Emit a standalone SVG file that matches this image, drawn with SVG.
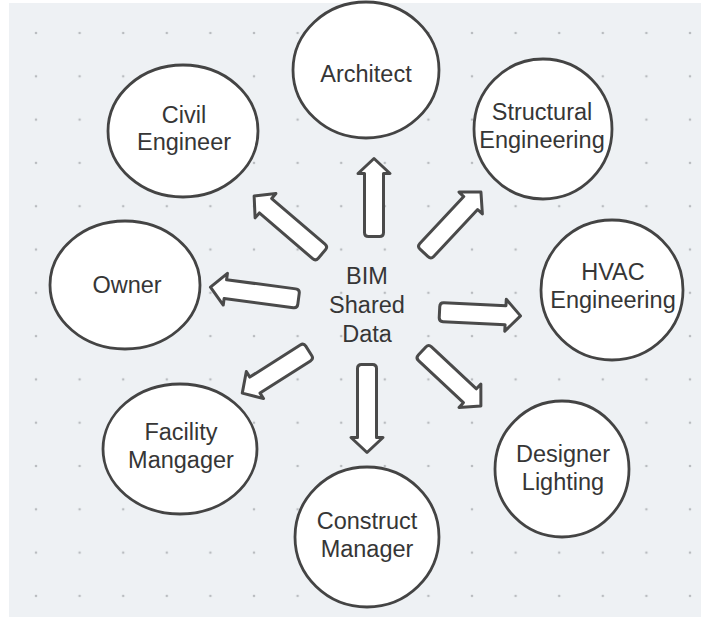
<svg xmlns="http://www.w3.org/2000/svg" width="701" height="620" viewBox="0 0 701 620">
<defs>
<pattern id="dots" patternUnits="userSpaceOnUse" x="14.2" y="11.35" width="43.6" height="43.3">
<circle cx="21.8" cy="21.65" r="1.3" fill="#b9bcc0"/>
</pattern>
<style>
.node ellipse{fill:#ffffff;stroke:#444444;stroke-width:2.8}
.node text,.center text{font-family:"Liberation Sans",Arial,sans-serif;font-size:23.5px;fill:#363636;text-anchor:middle}
.arrow{fill:#ffffff;stroke:#4a4a4a;stroke-width:3;stroke-linejoin:round}
</style>
</defs>
<rect x="0" y="0" width="701" height="620" fill="#ffffff"/>
<rect x="9" y="3" width="692" height="614" fill="#eef1f4"/>
<rect x="9" y="3" width="692" height="614" fill="url(#dots)"/>

<g id="connectors">
<path class="arrow" transform="translate(374,238) rotate(-90)" d="M5.5,-9.5 H64.5 V-16 L79.5,0 L64.5,16 V9.5 H5.5 Q1.5,9.5 1.5,5.5 V-5.5 Q1.5,-9.5 5.5,-9.5 Z"/>
<path class="arrow" transform="translate(423,254) rotate(-46.9)" d="M5.5,-9.5 H69.8 V-16 L84.8,0 L69.8,16 V9.5 H5.5 Q1.5,9.5 1.5,5.5 V-5.5 Q1.5,-9.5 5.5,-9.5 Z"/>
<path class="arrow" transform="translate(438,312) rotate(2.7)" d="M5.5,-9.5 H67.6 V-16 L82.6,0 L67.6,16 V9.5 H5.5 Q1.5,9.5 1.5,5.5 V-5.5 Q1.5,-9.5 5.5,-9.5 Z"/>
<path class="arrow" transform="translate(421,350) rotate(43.1)" d="M5.5,-9.5 H67 V-16 L82,0 L67,16 V9.5 H5.5 Q1.5,9.5 1.5,5.5 V-5.5 Q1.5,-9.5 5.5,-9.5 Z"/>
<path class="arrow" transform="translate(367,363) rotate(90)" d="M5.5,-9.5 H74.5 V-16 L89.5,0 L74.5,16 V9.5 H5.5 Q1.5,9.5 1.5,5.5 V-5.5 Q1.5,-9.5 5.5,-9.5 Z"/>
<path class="arrow" transform="translate(310,350) rotate(147.5)" d="M5.5,-9.5 H65.3 V-16 L80.3,0 L65.3,16 V9.5 H5.5 Q1.5,9.5 1.5,5.5 V-5.5 Q1.5,-9.5 5.5,-9.5 Z"/>
<path class="arrow" transform="translate(300,299) rotate(-172.5)" d="M5.5,-9.5 H75.3 V-16 L90.3,0 L75.3,16 V9.5 H5.5 Q1.5,9.5 1.5,5.5 V-5.5 Q1.5,-9.5 5.5,-9.5 Z"/>
<path class="arrow" transform="translate(323,255) rotate(-139.4)" d="M5.5,-9.5 H75.7 V-16 L90.7,0 L75.7,16 V9.5 H5.5 Q1.5,9.5 1.5,5.5 V-5.5 Q1.5,-9.5 5.5,-9.5 Z"/>
</g>

<g id="bim" class="center">
<text x="367" y="284">BIM</text>
<text x="367" y="313">Shared</text>
<text x="367" y="342">Data</text>
</g>

<g id="architect" class="node">
<ellipse cx="366" cy="70" rx="73" ry="68"/>
<text x="366" y="82">Architect</text>
</g>
<g id="civil" class="node">
<ellipse cx="183" cy="131" rx="75" ry="66"/>
<text x="184" y="123">Civil</text>
<text x="184" y="150">Engineer</text>
</g>
<g id="structural" class="node">
<ellipse cx="543" cy="129" rx="69" ry="70"/>
<text x="542" y="120">Structural</text>
<text x="542" y="148">Engineering</text>
</g>
<g id="hvac" class="node">
<ellipse cx="612" cy="290" rx="71" ry="70"/>
<text x="613" y="280">HVAC</text>
<text x="613" y="308">Engineering</text>
</g>
<g id="owner" class="node">
<ellipse cx="125" cy="285" rx="75" ry="64"/>
<text x="127" y="293">Owner</text>
</g>
<g id="facility" class="node">
<ellipse cx="180" cy="449" rx="77" ry="65"/>
<text x="181" y="440">Facility</text>
<text x="181" y="468">Mangager</text>
</g>
<g id="construct" class="node">
<ellipse cx="367" cy="537" rx="72" ry="70"/>
<text x="367" y="529">Construct</text>
<text x="367" y="557">Manager</text>
</g>
<g id="designer" class="node">
<ellipse cx="562" cy="469" rx="67" ry="68"/>
<text x="563" y="462">Designer</text>
<text x="563" y="490">Lighting</text>
</g>
</svg>
